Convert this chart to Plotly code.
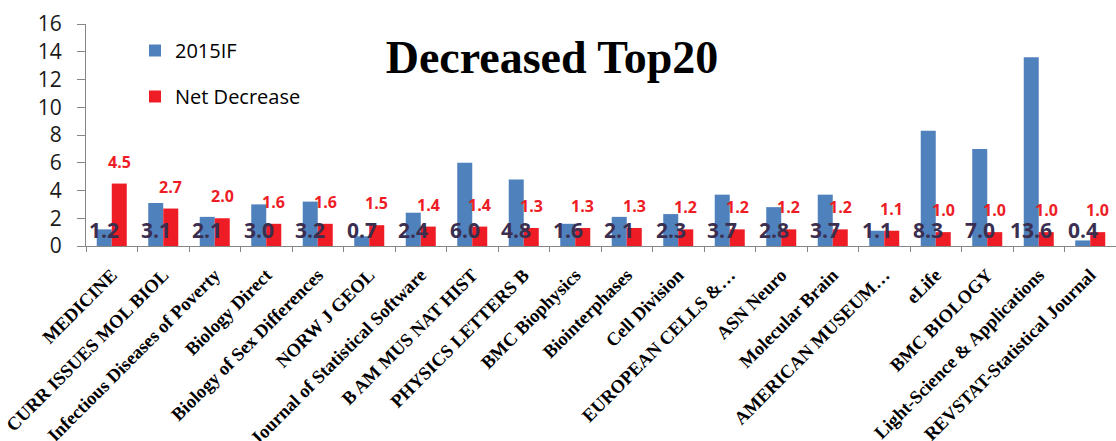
import plotly.graph_objects as go

categories = ["MEDICINE", "CURR ISSUES MOL BIOL", "Infectious Diseases of Poverty", "Biology Direct",
              "Biology of Sex Differences", "NORW J GEOL", "Journal of Statistical Software",
              "B AM MUS NAT HIST", "PHYSICS LETTERS B", "BMC Biophysics", "Biointerphases",
              "Cell Division", "EUROPEAN CELLS &…", "ASN Neuro", "Molecular Brain",
              "AMERICAN MUSEUM…", "eLife", "BMC BIOLOGY", "Light-Science & Applications",
              "REVSTAT-Statistical Journal"]
if2015 = [1.2, 3.1, 2.1, 3.0, 3.2, 0.7, 2.4, 6.0, 4.8, 1.6, 2.1, 2.3, 3.7, 2.8, 3.7, 1.1, 8.3, 7.0, 13.6, 0.4]
net_decrease = [4.5, 2.7, 2.0, 1.6, 1.6, 1.5, 1.4, 1.4, 1.3, 1.3, 1.3, 1.2, 1.2, 1.2, 1.2, 1.1, 1.0, 1.0, 1.0, 1.0]
y_ticks = [0, 2, 4, 6, 8, 10, 12, 14, 16]

BLUE = "#4f81bd"
RED = "#ee1c25"

fig = go.Figure()
fig.add_trace(go.Bar(x=categories, y=if2015, name="2015IF", marker=dict(color=BLUE, line=dict(width=0)),
                     legendgroup="a"))
fig.add_trace(go.Bar(x=categories, y=net_decrease, name="Net Decrease",
                     marker=dict(color=RED, line=dict(width=0)), legendgroup="b"))

annotations = []
for c, v in zip(categories, if2015):
    annotations.append(dict(x=c, y=0, xref="x", yref="y", text=f"{v:.1f}", showarrow=False,
                            xshift=-7.5, yshift=16, yanchor="middle",
                            font=dict(family="Open Sans", size=21, color="#3a2f50", weight="bold")))
for c, v in zip(categories, net_decrease):
    annotations.append(dict(x=c, y=v, xref="x", yref="y", text=f"{v:.1f}", showarrow=False,
                            xshift=7.5, yshift=9, yanchor="bottom",
                            font=dict(family="Open Sans", size=16, color=RED, weight="bold")))

fig.update_layout(
    width=1116, height=441,
    margin=dict(l=86, r=0, t=24, b=195, autoexpand=False),
    paper_bgcolor="white", plot_bgcolor="white",
    barmode="group", bargap=0.417, bargroupgap=0,
    title=dict(text="Decreased Top20", x=552/1116, xref="container", xanchor="center",
               y=1-57/441, yref="container", yanchor="middle",
               font=dict(family="Liberation Serif", size=46, color="black", weight="bold")),
    legend=dict(xref="paper", yref="paper", x=(135-86)/1030, y=1-(31-24)/222,
                xanchor="left", yanchor="top", tracegroupgap=17, traceorder="grouped",
                font=dict(family="Open Sans", size=20, color="black"), bgcolor="rgba(0,0,0,0)"),
    annotations=annotations,
    xaxis=dict(type="category", showline=True, linecolor="#868686", linewidth=1,
               ticks="outside", tickson="boundaries", ticklen=5, tickcolor="#868686",
               tickangle=-45, showgrid=False, automargin=False, ticklabelstandoff=10,
               tickfont=dict(family="Liberation Serif", size=18.5, color="black", weight="bold")),
    yaxis=dict(range=[0, 16], tickvals=y_ticks, showline=True, linecolor="#868686", linewidth=1,
               ticks="outside", ticklen=8, tickcolor="#868686", showgrid=False, zeroline=False,
               automargin=False, ticklabelstandoff=11,
               tickfont=dict(family="Open Sans", size=21, color="#1a1a1a")),
)

fig.write_html("out.html")
